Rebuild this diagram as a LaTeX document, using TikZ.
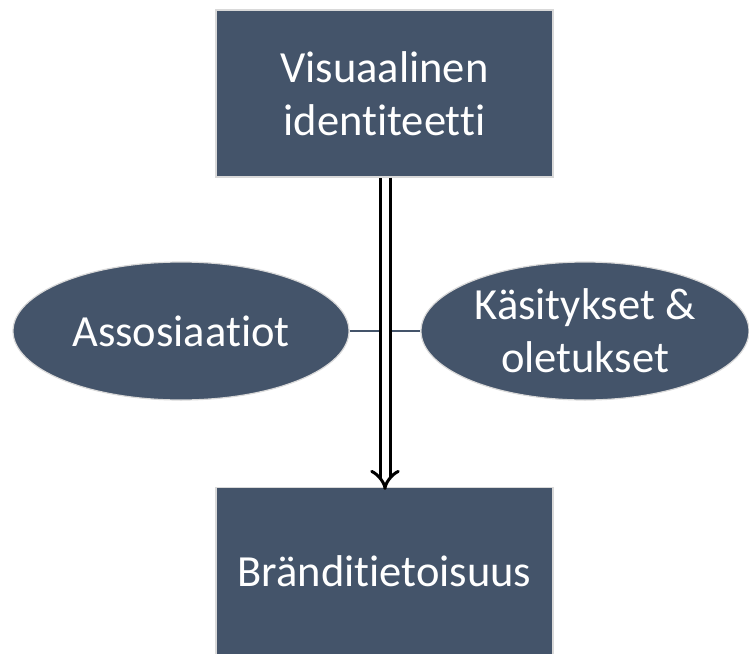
\documentclass[tikz,border=0pt]{standalone}
\usepackage{fontspec}
\setmainfont{Carlito}[Ligatures=NoCommon]
\usetikzlibrary{shapes.geometric,arrows.meta,arrows}
\definecolor{slate}{HTML}{44546A}
\definecolor{rim}{HTML}{D9D9D9}
\begin{document}
\begin{tikzpicture}[x=1pt,y=-1pt,
  shapebase/.style={fill=slate,draw=rim,line width=1.2pt,text=white,
    font=\fontsize{44.5}{53}\selectfont,align=center,inner sep=0pt},
  boxnode/.style={shapebase,rectangle,minimum width=337pt,minimum height=167pt},
  ovalnode/.style={shapebase,ellipse,minimum width=336pt,minimum height=138pt}]
\useasboundingbox (0,0) rectangle (749,653);
\node[boxnode] (top) at (384.5,93.5) {Visuaalinen\\identiteetti};
\node[boxnode] (bot) at (384.5,571) {Bränditietoisuus};
\node[ovalnode] (left) at (181,331) {Assosiaatiot};
\node[ovalnode,minimum width=328pt] (right) at (585,331) {Käsitykset \&\\oletukset};
% link between the two ellipses
\draw[slate,line width=2pt] (left.east) -- (right.west);
% inner thin line from the top box down to the link
\coordinate (cross) at (383,333);
\draw[slate,line width=1.5pt] (top.south -| cross) -- (cross);
% double-stroked arrow down to the bottom box
\coordinate (axis) at (385,0);
\draw[double=white,double distance=7pt,line width=3pt,-Implies] (top.south -| axis) -- ([yshift=-3pt]bot.north -| axis);
\end{tikzpicture}
\end{document}
